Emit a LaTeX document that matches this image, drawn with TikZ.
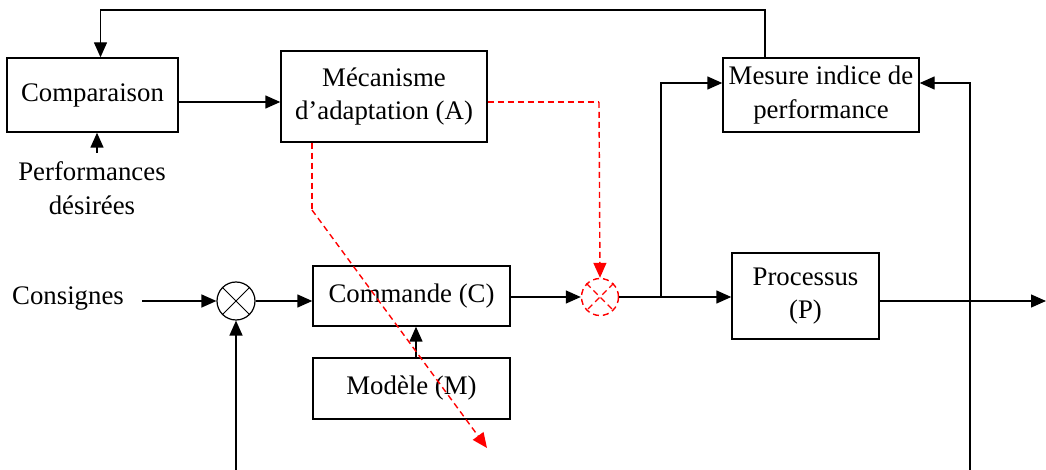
\documentclass[tikz,border=0pt]{standalone}
\usepackage{fontspec}
\setmainfont{Liberation Serif}
\usetikzlibrary{arrows.meta}
\begin{document}
\begin{tikzpicture}[x=0.5pt,y=-0.5pt,
  every node/.style={font=\fontsize{13.4}{16.8}\selectfont},
  blk/.style={draw, line width=0.7pt, inner sep=0pt, align=center},
  sumc/.style={draw, circle, line width=0.6pt, inner sep=0pt, minimum size=19pt},
  rsumc/.style={draw=red, circle, dashed, dash pattern=on 3pt off 2pt, line width=0.7pt, inner sep=0pt, minimum size=18.5pt},
  wire/.style={line width=0.7pt},
  arr/.style={wire, -{Triangle[length=7.5pt,width=6.5pt]}},
  rdash/.style={red, line width=0.7pt, dash pattern=on 3pt off 2pt},
  rarr/.style={rdash, -{Triangle[length=7.5pt,width=6.5pt]}},
  lbl/.style={inner sep=0pt, align=center}
]
\useasboundingbox (0,0) rectangle (1046,470);

% boxes
\node[blk, minimum width=85.5pt, minimum height=37pt] (comp) at (92.5,95) {Comparaison};
\node[blk, minimum width=103pt, minimum height=45.5pt] (meca) at (384,96.5) {Mécanisme\\d’adaptation (A)};
\node[blk, minimum width=98pt, minimum height=37pt] (mes) at (821,95) {Mesure indice de\\performance};
\node[blk, minimum width=98.5pt, minimum height=30pt] (cmd) at (411.5,296) {Commande (C)};
\node[blk, minimum width=98.5pt, minimum height=30.5pt] (mod) at (411.5,388.5) {Modèle (M)};
\node[blk, minimum width=73.5pt, minimum height=43pt] (proc) at (805.5,296) {Processus\\(P)};

% junctions
\node[sumc] (sum) at (236,301) {};
\draw[line width=0.5pt] (sum.45) -- (sum.225) (sum.135) -- (sum.315);
\node[rsumc] (rsum) at (600,297) {};
\draw[rdash] (rsum.45) -- (rsum.225) (rsum.135) -- (rsum.315);

% labels
\node[lbl] (cons) at (68,299) {Consignes};
\node[lbl] (perf) at (92,188) {Performances\\désirées};

% coordinates
\coordinate (consend) at (142,301);
\coordinate (perfstart) at (97,153);
\coordinate (top1) at (765,10);
\coordinate (top2) at (100.5,10);
\coordinate (br) at (661,297);
\coordinate (brup) at (661,83);
\coordinate (rb) at (970,470);
\coordinate (rt) at (970,83);
\coordinate (outend) at (1046,301);
\coordinate (fbb) at (236,470);
\coordinate (r1) at (599,102);
\coordinate (r2) at (312,210);
\coordinate (r3) at (487,448);

% black connectors
\draw[arr] (consend) -- (sum.west);
\draw[arr] (sum.east) -- (sum.east -| cmd.west);
\draw[arr] (fbb) -- (sum.south);
\draw[arr] (cmd.east |- rsum.west) -- (rsum.west);
\draw[wire] (rsum.east) -- (br);
\draw[arr] (br) -- (proc.west |- br);
\draw[arr] (br) -- (brup) -- (mes.west |- brup);
\draw[arr] (rb) -- (rt) -- (mes.east |- rt);
\draw[arr] (proc.east |- outend) -- (outend);
\draw[arr] (mes.north -| top1) -- (top1) -- (top2) -- (comp.north -| top2);
\draw[arr] (perfstart) -- (comp.south -| perfstart);
\draw[arr] (comp.east |- 0,102) -- (meca.west |- 0,102);
\draw[arr] (mod.north -| 416,0) -- (cmd.south -| 416,0);

% red connectors
\draw[rdash] (meca.east |- r1) -- (r1);
\draw[rarr] (r1) -- (rsum.north);
\draw[rdash] (meca.south -| r2) -- (r2);
\draw[rarr] (r2) -- (r3);
\end{tikzpicture}
\end{document}
